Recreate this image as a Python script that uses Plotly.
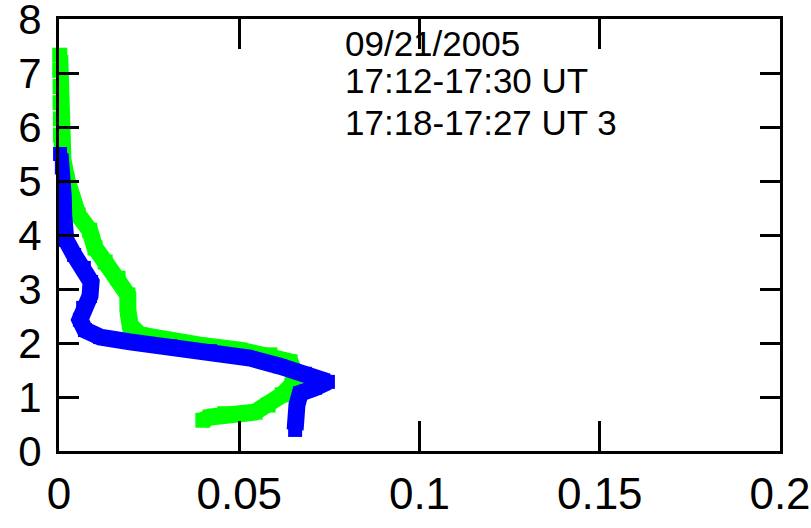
import plotly.graph_objects as go

# Data
green_x = [0.0002, 0.0002, 0.0003, 0.0003, 0.0004, 0.0004, 0.0006, 0.0011, 0.0022, 0.0036,
           0.0053, 0.0085, 0.0100, 0.0128, 0.0164, 0.0191, 0.0191, 0.0197, 0.0225, 0.0294,
           0.0391, 0.0502, 0.0585, 0.0641, 0.0657, 0.0646, 0.0619, 0.0580, 0.0544, 0.0502,
           0.0460, 0.0419, 0.0399]
green_y = [7.33, 7.05, 6.75, 6.45, 6.15, 5.85, 5.60, 5.39, 5.02, 4.65,
           4.37, 4.09, 3.76, 3.50, 3.20, 2.89, 2.61, 2.33, 2.15, 2.06,
           1.96, 1.87, 1.78, 1.65, 1.41, 1.22, 1.04, 0.85, 0.72, 0.69,
           0.69, 0.63, 0.57]

blue_x = [0.0003, 0.0008, 0.0011, 0.0012, 0.0013, 0.0019, 0.0042, 0.0069, 0.0089, 0.0086,
          0.0067, 0.0058, 0.0072, 0.0114, 0.0197, 0.0308, 0.0419, 0.0530, 0.0613, 0.0682,
          0.0746, 0.0710, 0.0669, 0.0660, 0.0660, 0.0655]
blue_y = [5.50, 5.25, 5.02, 4.70, 4.37, 3.91, 3.63, 3.39, 3.13, 2.87,
          2.65, 2.43, 2.24, 2.11, 2.02, 1.94, 1.85, 1.72, 1.57, 1.43,
          1.28, 1.17, 1.07, 0.85, 0.61, 0.39]

x_ticks = [0, 0.05, 0.1, 0.15, 0.2]
x_ticktext = ["0", "0.05", "0.1", "0.15", "0.2"]
y_ticks = [0, 1, 2, 3, 4, 5, 6, 7, 8]
y_ticktext = [str(v) for v in y_ticks]

title_lines = ["09/21/2005", "17:12-17:30 UT", "17:18-17:27 UT 3"]

FONT = "Liberation Sans, Arial, sans-serif"

fig = go.Figure()
fig.add_trace(go.Scatter(x=green_x, y=green_y, mode="lines+markers", cliponaxis=False,
                         line=dict(color="#00ff00", width=17),
                         marker=dict(symbol="square", size=15, color="#00ff00"),
                         showlegend=False))
fig.add_trace(go.Scatter(x=blue_x, y=blue_y, mode="lines+markers", cliponaxis=False,
                         line=dict(color="#0000ff", width=17),
                         marker=dict(symbol="square", size=14, color="#0000ff"),
                         showlegend=False))

# centres of the three text lines, in pixels from the top of the page
PLOT_TOP, PLOT_H = 19, 432
centers_px = [44, 81, 122]
for txt, cy in zip(title_lines, centers_px):
    fig.add_annotation(text=txt, xref="paper", yref="paper", x=0.394,
                       y=1 - (cy - PLOT_TOP) / PLOT_H,
                       xanchor="left", yanchor="middle", showarrow=False,
                       font=dict(family=FONT, size=35, color="black"))

axis_common = dict(showline=True, linecolor="black", linewidth=3, mirror="ticks",
                   ticks="inside", tickcolor="black", tickwidth=3, showgrid=False,
                   zeroline=False, ticklabeloverflow="allow", layer="above traces",
                   automargin=False)

fig.update_xaxes(range=[0, 0.2], tickvals=x_ticks, ticktext=x_ticktext, ticklen=30,
                 ticklabelstandoff=2,
                 tickfont=dict(family=FONT, size=44, color="black"), **axis_common)
fig.update_yaxes(range=[0, 8], tickvals=y_ticks, ticktext=y_ticktext, ticklen=20,
                 ticklabelstandoff=6,
                 tickfont=dict(family=FONT, size=42, color="black"), **axis_common)

fig.update_layout(width=811, height=528, margin=dict(l=59, r=31, t=19, b=77),
                  plot_bgcolor="white", paper_bgcolor="white")

fig.write_html("out.html")
